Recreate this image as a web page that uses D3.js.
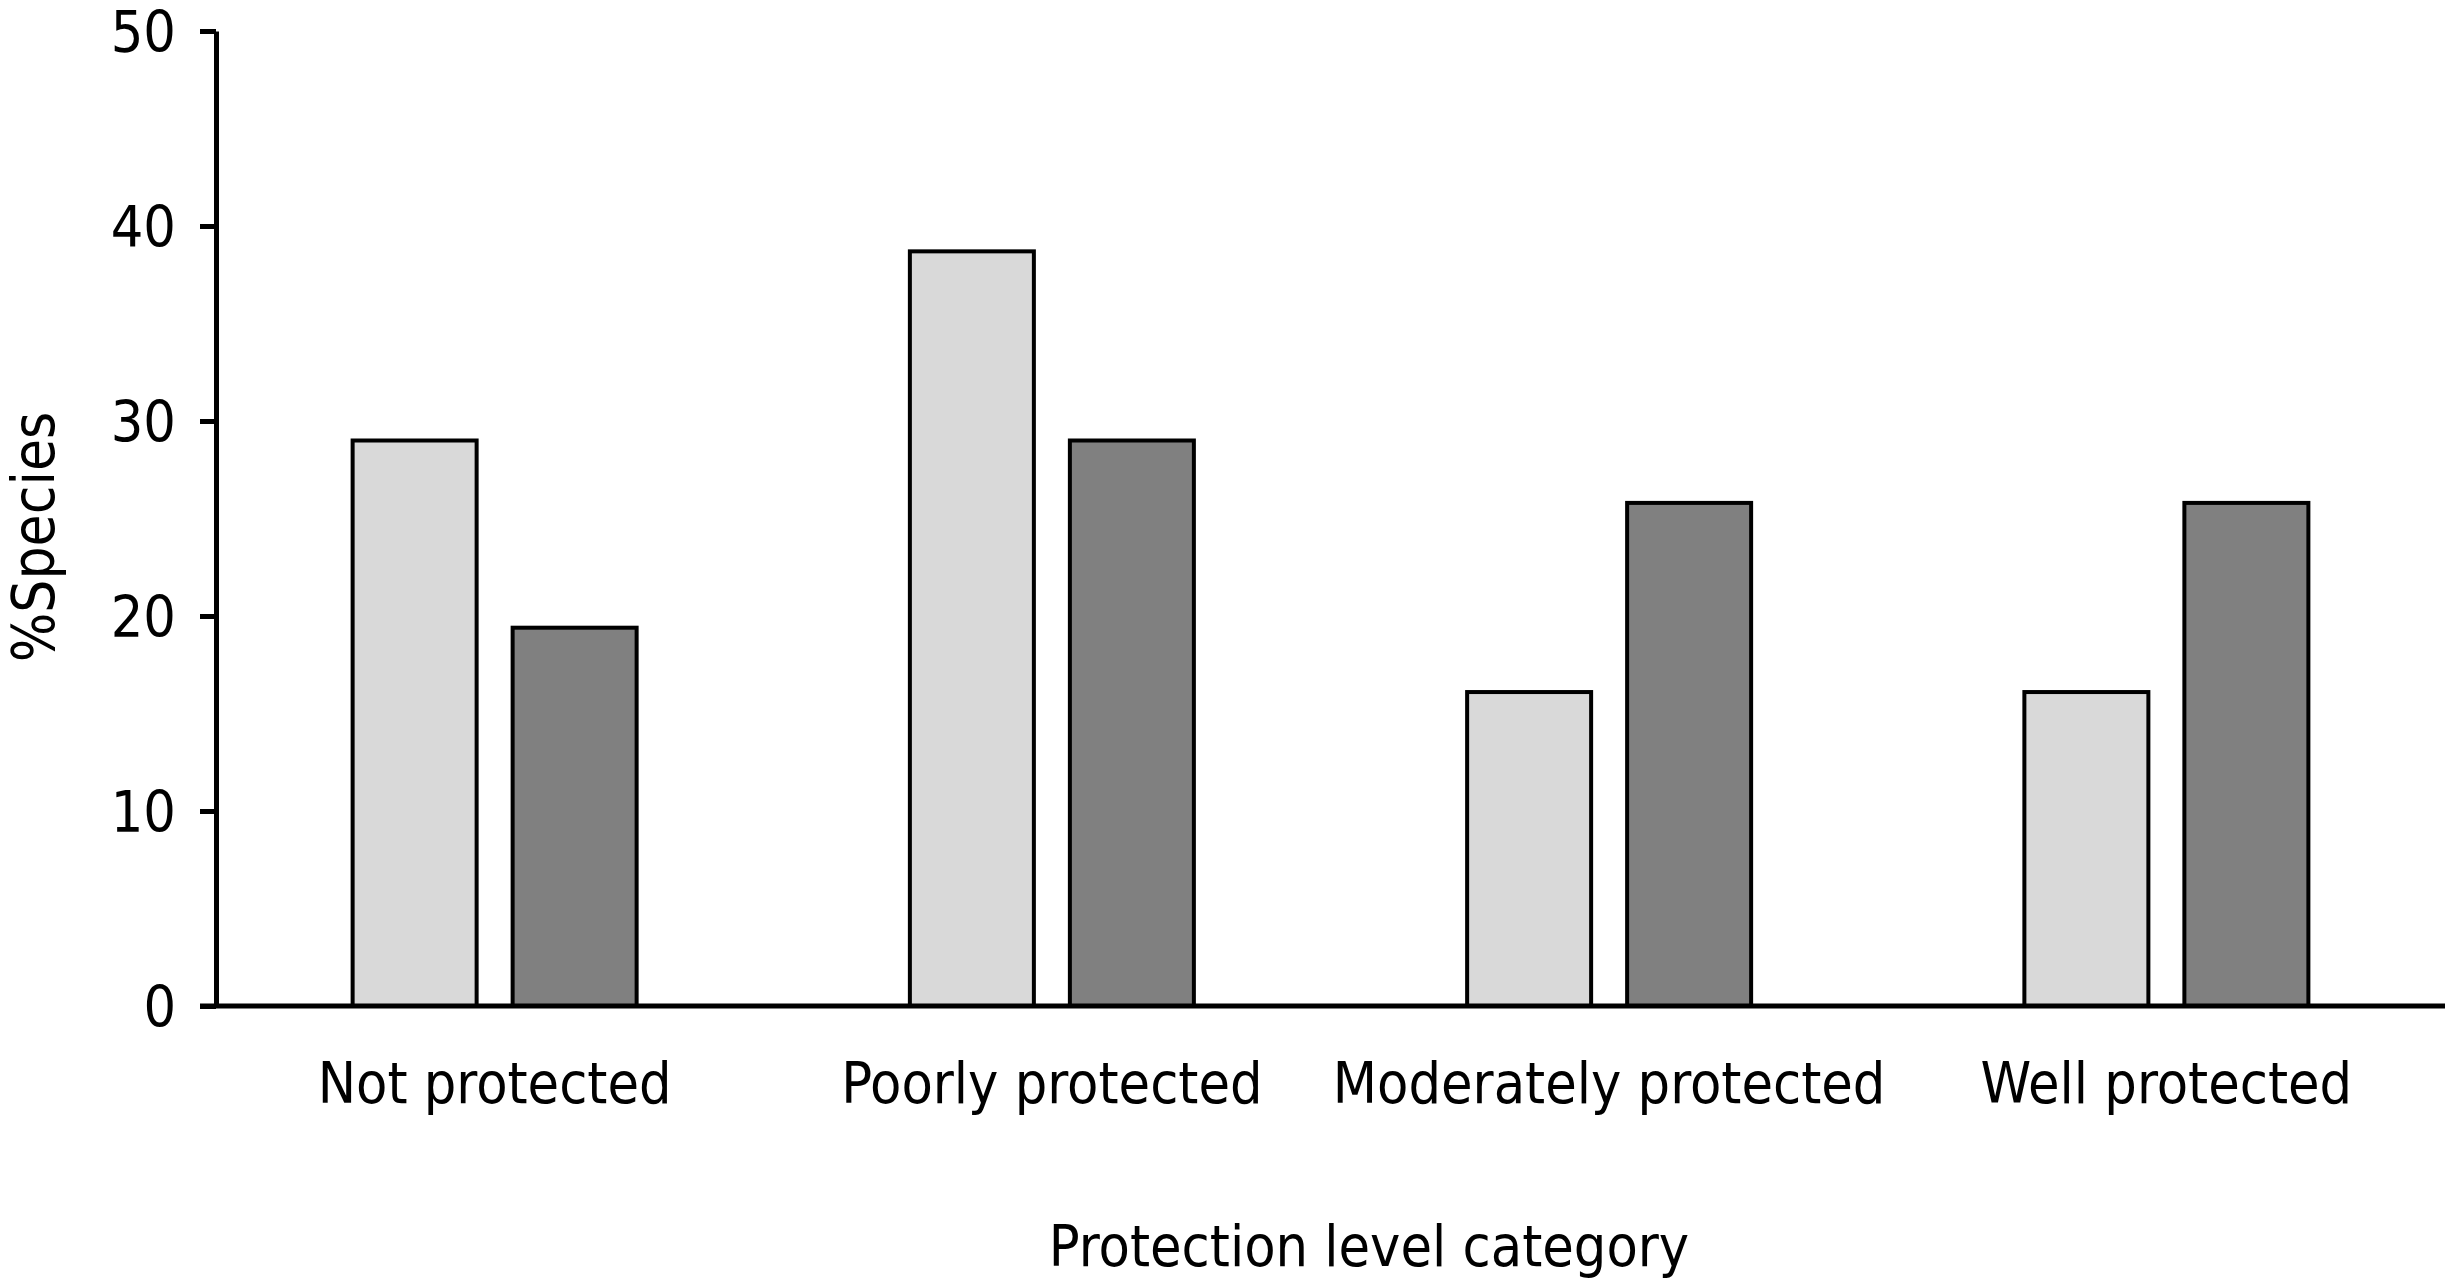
<!DOCTYPE html>
<html>
<head>
<meta charset="utf-8">
<script src="https://cdn.jsdelivr.net/npm/d3@7"></script>
<style>
  body { margin: 0; background: #fff; }
  svg text { font-family: "DejaVu Sans Condensed", "DejaVu Sans", sans-serif; fill: #000; }
</style>
</head>
<body>
<div id="chart"></div>
<script>
// categories and the two series (% of species)
const categories = ["Not protected", "Poorly protected", "Moderately protected", "Well protected"];
const seriesNames = ["light", "dark"];
const lightValues = [29.0, 38.7, 16.1, 16.1];
const darkValues = [19.4, 29.0, 25.8, 25.8];
const yTicks = [0, 10, 20, 30, 40, 50];
const seriesColors = ["#d9d9d9", "#808080"];

const width = 2454, height = 1286;
const margin = { left: 216, right: 9, top: 31, bottom: 280 };

const svg = d3.select("#chart").append("svg")
    .attr("width", width)
    .attr("height", height);

const x = d3.scaleBand()
    .domain(categories)
    .range([margin.left, width - margin.right]);

// bars inside a group: width 124, gap 36
const x1 = d3.scaleBand()
    .domain(seriesNames)
    .range([0, 284])
    .paddingInner(36 / 160);

const y = d3.scaleLinear()
    .domain([0, 50])
    .range([height - margin.bottom, margin.top]);

const rows = categories.map((c, i) => ({ cat: c, values: [lightValues[i], darkValues[i]] }));

const groups = svg.selectAll("g.group")
    .data(rows)
    .enter()
    .append("g")
    .attr("class", "group")
    .attr("transform", d => `translate(${x(d.cat) + x.bandwidth() / 2 - 142},0)`);

groups.selectAll("rect")
    .data(d => d.values.map((v, i) => ({ key: seriesNames[i], v: v, i: i })))
    .enter()
    .append("rect")
    .attr("x", d => x1(d.key))
    .attr("y", d => y(d.v))
    .attr("width", x1.bandwidth())
    .attr("height", d => y(0) - y(d.v))
    .attr("fill", d => seriesColors[d.i])
    .attr("stroke", "#000")
    .attr("stroke-width", 4);

// y axis
const yAxis = svg.append("g")
    .attr("transform", `translate(${margin.left},0)`)
    .call(d3.axisLeft(y).tickValues(yTicks).tickSize(16).tickPadding(24).tickSizeOuter(0));
yAxis.select(".domain").attr("stroke-width", 5);
yAxis.selectAll(".tick line").attr("stroke-width", 5);
yAxis.selectAll("text").style("font-size", "57px").attr("dy", "0.36em");

// x axis line (no ticks)
svg.append("line")
    .attr("x1", margin.left - 16)
    .attr("x2", width - margin.right)
    .attr("y1", y(0))
    .attr("y2", y(0))
    .attr("stroke", "#000")
    .attr("stroke-width", 5);

// category labels
svg.selectAll("text.cat")
    .data(categories)
    .enter()
    .append("text")
    .attr("class", "cat")
    .attr("x", d => x(d) + x.bandwidth() / 2)
    .attr("y", 1103)
    .attr("text-anchor", "middle")
    .style("font-size", "57px")
    .text(d => d);

svg.append("text")
    .attr("x", 1369)
    .attr("y", 1266)
    .attr("text-anchor", "middle")
    .style("font-size", "57px")
    .text("Protection level category");

svg.append("text")
    .attr("transform", "translate(54,537) rotate(-90)")
    .attr("text-anchor", "middle")
    .style("font-size", "58px")
    .text("%Species");
</script>
</body>
</html>
